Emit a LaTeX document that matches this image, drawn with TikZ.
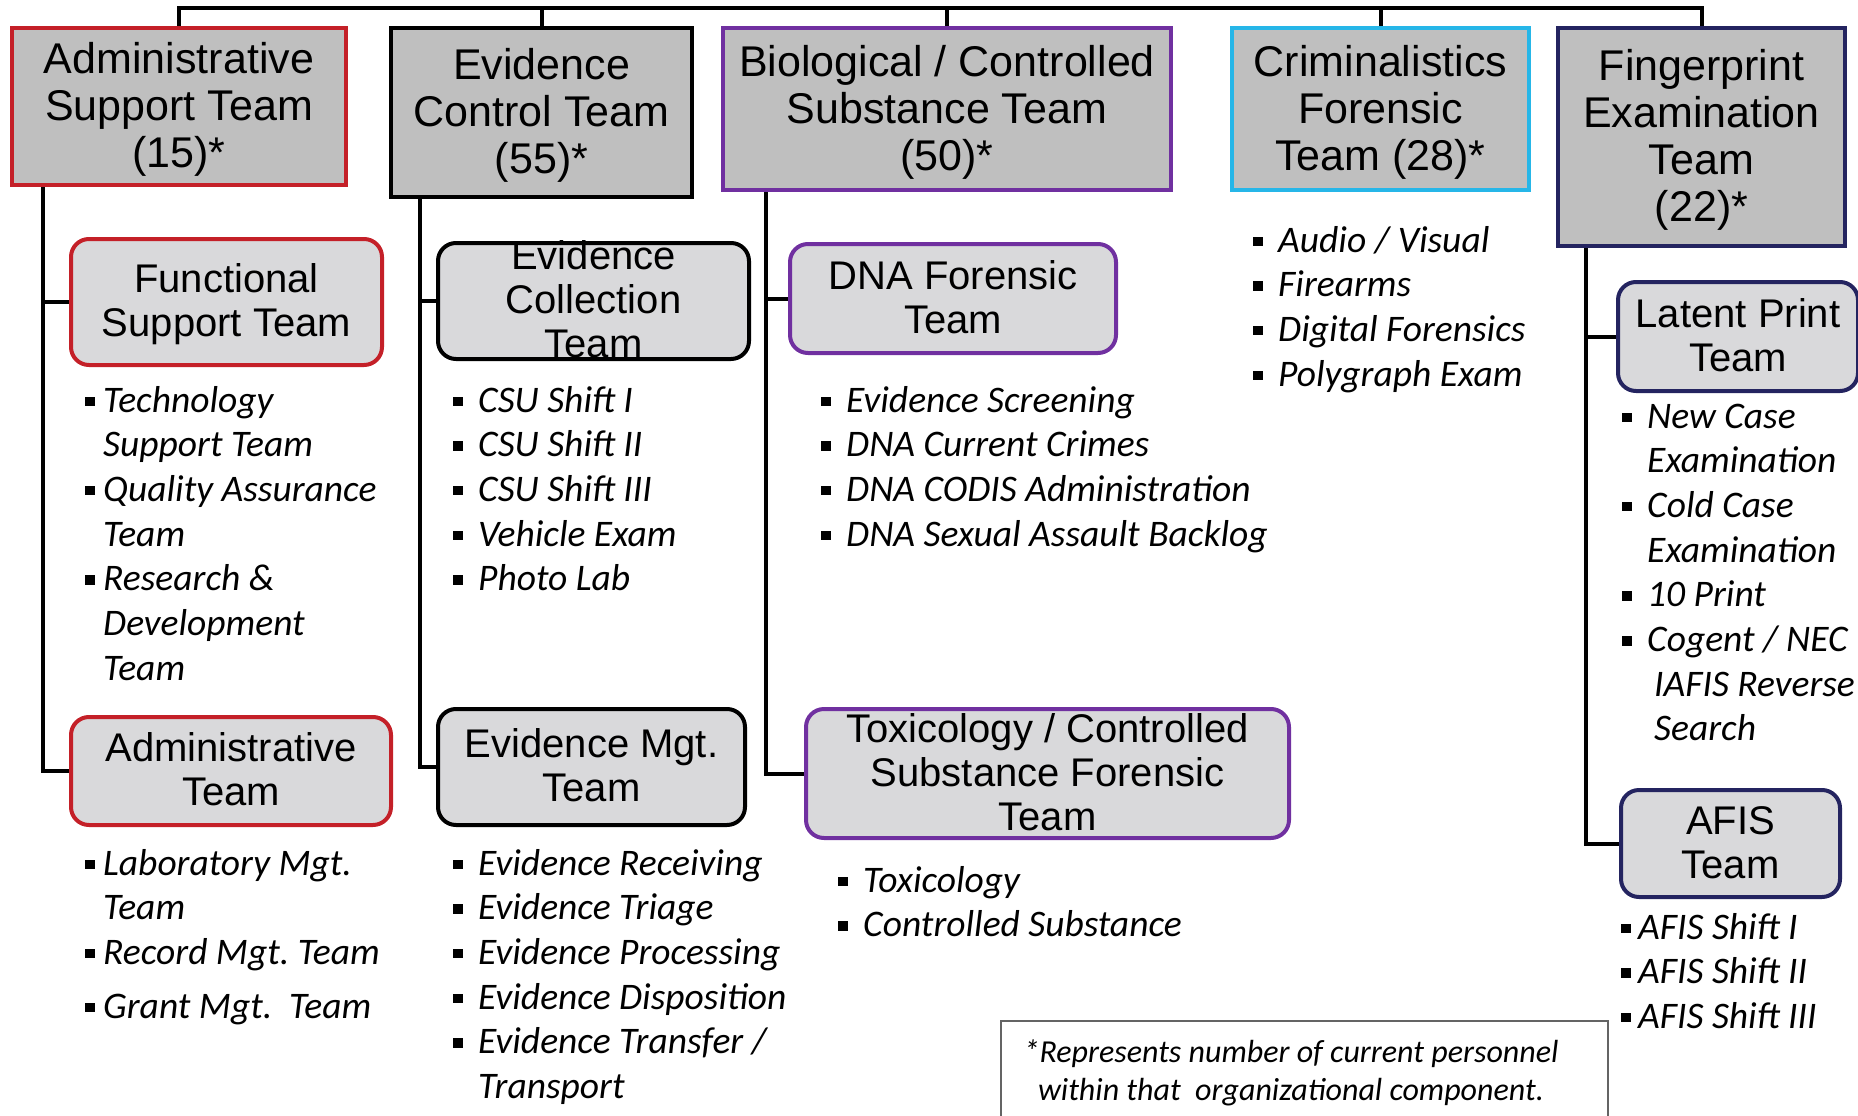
\documentclass[tikz,border=0pt]{standalone}
\usepackage{fontspec}
\setmainfont{Liberation Sans}
\newfontfamily\listfont{Carlito}

\definecolor{topgray}{RGB}{191,191,191}
\definecolor{subgray}{RGB}{217,217,219}
\definecolor{redline}{RGB}{196,32,40}
\definecolor{purpleline}{RGB}{112,48,160}
\definecolor{cyanline}{RGB}{38,182,232}
\definecolor{navyline}{RGB}{36,36,96}
\definecolor{notegray}{RGB}{100,100,100}

\tikzstyle{team}=[draw, fill=topgray, line width=4pt, inner sep=0pt, font={\fontsize{43}{47}\selectfont}]
\tikzstyle{subteam}=[team, fill=subgray, rounded corners=18pt, font={\fontsize{40}{44}\selectfont}]
\tikzstyle{duties}=[anchor=base west, inner sep=0pt, font={\listfont\itshape\fontsize{37.5}{44.7}\selectfont}]
\tikzstyle{link}=[line width=4pt]

\newcommand\boxtext[1]{\smash{\raisebox{-.26em}{\begin{tabular}{@{}c@{}}#1\end{tabular}}}}
\newcommand\sq[1][25pt]{\makebox[#1][l]{\rule[.16em]{.25em}{.25em}}}

\begin{document}
\begin{tikzpicture}[x=1pt, y=-1pt]
\useasboundingbox (0,0) rectangle (1858,1116);
% Teams
    \node[team, draw=redline, minimum width=334pt, minimum height=157pt] (admsup) at (179,106.5) {\boxtext{Administrative\\Support Team\\(15)*}};
    \node[team, draw=black, minimum width=301pt, minimum height=169pt] (evctl) at (541.5,112.5) {\boxtext{Evidence\\Control Team\\(55)*}};
    \node[team, draw=purpleline, minimum width=448pt, minimum height=162pt] (biocs) at (947,109) {\boxtext{Biological / Controlled\\Substance Team\\(50)*}};
    \node[team, draw=cyanline, minimum width=297pt, minimum height=162pt] (crimfor) at (1380.5,109) {\boxtext{Criminalistics\\Forensic\\Team (28)*}};
    \node[team, draw=navyline, minimum width=287pt, minimum height=218pt] (fpexam) at (1701.5,137) {\boxtext{Fingerprint\\Examination\\Team\\(22)*}};
% Sub-teams
    \node[subteam, draw=redline, minimum width=311pt, minimum height=126pt] (funcsup) at (226.5,302) {\boxtext{Functional\\Support Team}};
    \node[subteam, draw=redline, minimum width=320pt, minimum height=108pt] (admteam) at (231,771) {\boxtext{Administrative\\Team}};
    \node[subteam, draw=black, minimum width=311pt, minimum height=116pt] (evcoll) at (593.5,301) {\boxtext{Evidence\\Collection\\Team}};
    \node[subteam, draw=black, minimum width=307pt, minimum height=116pt] (evmgt) at (591.5,767) {\boxtext{Evidence Mgt.\\Team}};
    \node[subteam, draw=purpleline, minimum width=326pt, minimum height=109pt] (dnafor) at (953,298.5) {\boxtext{DNA Forensic\\Team}};
    \node[subteam, draw=purpleline, minimum width=483pt, minimum height=129pt] (toxcs) at (1047.5,773.5) {\boxtext{Toxicology / Controlled\\Substance Forensic\\Team}};
    \node[subteam, draw=navyline, minimum width=240pt, minimum height=109pt] (latent) at (1738,336.5) {\boxtext{Latent Print\\Team}};
    \node[subteam, draw=navyline, minimum width=219pt, minimum height=107pt] (afis) at (1730.5,843.5) {\boxtext{AFIS\\Team}};
% Lines
    \coordinate (bar) at (0,8);
    \draw[link] (admsup.north) -- (admsup.north |- bar) -- (fpexam.north |- bar) -- (fpexam.north);
    \foreach \t in {evctl, biocs, crimfor}
        \draw[link] (\t.north) -- (\t.north |- bar);
    \draw[link] ([xshift=33pt]admsup.south west) |- (funcsup.west);
    \draw[link] ([xshift=33pt]admsup.south west) |- (admteam.west);
    \draw[link] ([xshift=31pt]evctl.south west) |- (evcoll.west);
    \draw[link] ([xshift=31pt]evctl.south west) |- (evmgt.west);
    \draw[link] ([xshift=45pt]biocs.south west) |- (dnafor.west);
    \draw[link] ([xshift=45pt]biocs.south west) |- (toxcs.west);
    \draw[link] ([xshift=30pt]fpexam.south west) |- (latent.west);
    \draw[link] ([xshift=30pt]fpexam.south west) |- (afis.west);
% Duties
    \node[duties] (funclist) at (85,412) {\begin{tabular}[t]{@{}l@{}l@{}}
        \sq[18pt]&Technology\\&Support Team\\\sq[18pt]&Quality Assurance\\&Team\\
        \sq[18pt]&Research \&\\&Development\\&Team\end{tabular}};
    \node[duties] (admlist) at (85,875) {\begin{tabular}[t]{@{}l@{}l@{}}
        \sq[18pt]&Laboratory Mgt.\\&Team\\\sq[18pt]&Record Mgt.\ Team\\[9pt]
        \sq[18pt]&Grant Mgt.~~Team\end{tabular}};
    \node[duties] (colllist) at (453,412) {\begin{tabular}[t]{@{}l@{}l@{}}
        \sq&CSU Shift I\\\sq&CSU Shift II\\\sq&CSU Shift III\\\sq&Vehicle Exam\\\sq&Photo Lab\end{tabular}};
    \node[duties] (mgtlist) at (453,875) {\begin{tabular}[t]{@{}l@{}l@{}}
        \sq&Evidence Receiving\\\sq&Evidence Triage\\\sq&Evidence Processing\\
        \sq&Evidence Disposition\\\sq&Evidence Transfer /\\&Transport\end{tabular}};
    \node[duties] (dnalist) at (821,412) {\begin{tabular}[t]{@{}l@{}l@{}}
        \sq&Evidence Screening\\\sq&DNA Current Crimes\\\sq&DNA CODIS Administration\\
        \sq&DNA Sexual Assault Backlog\end{tabular}};
    \node[duties] (toxlist) at (838,892) {\begin{tabular}[t]{@{}l@{}l@{}}
        \sq&Toxicology\\\sq&Controlled Substance\end{tabular}};
    \node[duties] (crimlist) at (1253,252) {\begin{tabular}[t]{@{}l@{}l@{}}
        \sq&Audio / Visual\\\sq&Firearms\\\sq&Digital Forensics\\\sq&Polygraph Exam\end{tabular}};
    \node[duties] (latlist) at (1622,428) {\begin{tabular}[t]{@{}l@{}l@{}}
        \sq&New Case\\&Examination\\\sq&Cold Case\\&Examination\\\sq&10 Print\\
        \sq&Cogent / NEC\\&\hspace*{7pt}IAFIS Reverse\\&\hspace*{7pt}Search\end{tabular}};
    \node[duties] (afislist) at (1621,939) {\begin{tabular}[t]{@{}l@{}l@{}}
        \sq[17pt]&AFIS Shift I\\\sq[17pt]&AFIS Shift II\\\sq[17pt]&AFIS Shift III\end{tabular}};
% Footnote
    \node[draw=notegray, line width=2pt, minimum width=607pt, minimum height=130pt] (note) at (1304.5,1086) {};
    \node[anchor=base, inner sep=0pt, font={\listfont\itshape\fontsize{32}{38}\selectfont}] (notetext) at (1291,1062)
        {\begin{tabular}[t]{@{}c@{}}*Represents number of current personnel\\within that~~organizational component.\end{tabular}};
\end{tikzpicture}
\end{document}
